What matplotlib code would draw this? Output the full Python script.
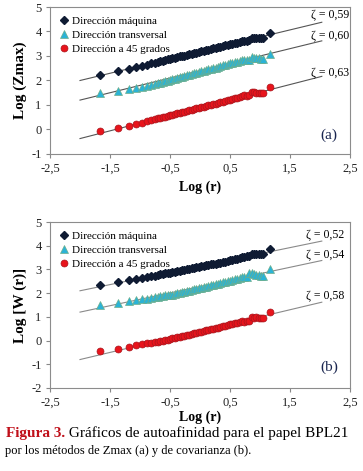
import matplotlib
matplotlib.use("Agg")
import matplotlib.pyplot as plt

plt.rcParams['font.family'] = ['Liberation Serif', 'DejaVu Serif']

# log(r) shared by every series
log_r = [-1.66, -1.36, -1.18, -1.06, -0.96, -0.88, -0.81, -0.75, -0.70, -0.66, -0.62, -0.58,
         -0.54, -0.50, -0.46, -0.42, -0.38, -0.34, -0.30, -0.26, -0.22, -0.18, -0.14, -0.10,
         -0.06, -0.02, 0.02, 0.06, 0.10, 0.14, 0.18, 0.22, 0.26, 0.30, 0.34, 0.38,
         0.42, 0.46, 0.50, 0.54, 0.58, 0.62, 0.66, 0.70, 0.74, 0.78, 0.82,
         0.86, 0.90, 0.94, 0.98, 1.02, 1.05, 1.16]

# (a) Log(Zmax)
a_maquina = [2.22, 2.37, 2.47, 2.55, 2.60, 2.65, 2.70, 2.73, 2.76, 2.78, 2.81, 2.83,
             2.86, 2.88, 2.90, 2.93, 2.95, 2.98, 3.00, 3.02, 3.05, 3.07, 3.09, 3.12,
             3.14, 3.17, 3.19, 3.21, 3.24, 3.26, 3.29, 3.31, 3.33, 3.36, 3.38, 3.41,
             3.43, 3.45, 3.47, 3.50, 3.53, 3.55, 3.58, 3.62, 3.63, 3.62, 3.64,
             3.74, 3.75, 3.73, 3.74, 3.73, 3.73, 3.93]
a_transversal = [1.47, 1.58, 1.66, 1.71, 1.75, 1.79, 1.82, 1.85, 1.88, 1.90, 1.93, 1.96,
                 1.99, 2.02, 2.05, 2.07, 2.10, 2.13, 2.15, 2.18, 2.21, 2.23, 2.26, 2.29,
                 2.31, 2.34, 2.37, 2.39, 2.42, 2.45, 2.47, 2.50, 2.53, 2.56, 2.59, 2.62,
                 2.65, 2.68, 2.71, 2.72, 2.74, 2.77, 2.79, 2.82, 2.85, 2.84, 2.83,
                 2.94, 2.93, 2.91, 2.90, 2.88, 2.86, 3.10]
a_45 = [-0.05, 0.07, 0.16, 0.22, 0.28, 0.33, 0.38, 0.42, 0.45, 0.48, 0.51, 0.53,
        0.56, 0.59, 0.61, 0.63, 0.66, 0.68, 0.71, 0.73, 0.76, 0.78, 0.81, 0.83,
        0.86, 0.88, 0.91, 0.93, 0.96, 0.98, 1.01, 1.03, 1.06, 1.08, 1.11, 1.14,
        1.16, 1.19, 1.22, 1.24, 1.27, 1.30, 1.33, 1.38, 1.39, 1.38, 1.40,
        1.52, 1.53, 1.50, 1.51, 1.49, 1.50, 1.73]

# (b) Log[W(r)]
b_maquina = [2.33, 2.46, 2.55, 2.60, 2.64, 2.68, 2.71, 2.74, 2.77, 2.79, 2.81, 2.83,
             2.85, 2.87, 2.89, 2.91, 2.93, 2.95, 2.97, 2.99, 3.01, 3.03, 3.05, 3.07,
             3.09, 3.11, 3.13, 3.15, 3.17, 3.19, 3.21, 3.23, 3.25, 3.27, 3.29, 3.31,
             3.33, 3.36, 3.38, 3.40, 3.42, 3.46, 3.48, 3.52, 3.53, 3.55, 3.56,
             3.65, 3.66, 3.65, 3.66, 3.64, 3.64, 3.86]
b_transversal = [1.50, 1.60, 1.66, 1.70, 1.74, 1.77, 1.80, 1.83, 1.85, 1.87, 1.89, 1.91,
                 1.92, 1.93, 1.94, 1.97, 1.99, 2.01, 2.04, 2.06, 2.08, 2.11, 2.13, 2.16,
                 2.18, 2.20, 2.23, 2.25, 2.28, 2.30, 2.33, 2.35, 2.38, 2.40, 2.43, 2.45,
                 2.48, 2.50, 2.53, 2.55, 2.58, 2.61, 2.64, 2.68, 2.66, 2.70, 2.86,
                 2.84, 2.80, 2.78, 2.76, 2.74, 2.72, 3.00]
b_45 = [-0.43, -0.34, -0.26, -0.20, -0.16, -0.12, -0.09, -0.06, -0.04, -0.02, 0.00, 0.02,
        0.04, 0.06, 0.09, 0.11, 0.13, 0.16, 0.18, 0.20, 0.23, 0.25, 0.28, 0.30,
        0.33, 0.35, 0.38, 0.40, 0.43, 0.45, 0.48, 0.50, 0.53, 0.55, 0.58, 0.60,
        0.63, 0.65, 0.68, 0.70, 0.72, 0.75, 0.78, 0.82, 0.80, 0.83, 0.82,
        0.98, 0.97, 0.98, 0.96, 0.95, 0.94, 1.20]

# fitted lines (slope, intercept) and their x extent
fit_x = [-2.0, 2.03]
a_fit = [(0.59, 3.18), (0.60, 2.40), (0.63, 0.89)]
b_fit = [(0.52, 3.14), (0.54, 2.28), (0.60, 0.40)]
a_zeta = ['ζ = 0,59', 'ζ = 0,60', 'ζ = 0,63']
b_zeta = ['ζ = 0,52', 'ζ = 0,54', 'ζ = 0,58']
a_zeta_y = [4.65, 3.80, 2.30]
b_zeta_y = [4.45, 3.60, 1.88]

labels = ['Dirección máquina', 'Dirección transversal', 'Dirección a 45 grados']
xticks = [-2.5, -1.5, -0.5, 0.5, 1.5, 2.5]
xtick_labels = ['-2,5', '-1,5', '-0,5', '0,5', '1,5', '2,5']

styles = [dict(marker='D', ms=4, mfc='#0f1b33', mec='#0f1b33'),
          dict(marker='^', ms=5.5, mfc='#2bb3d6', mec='#6fae8a', mew=0.5),
          dict(marker='o', ms=5, mfc='#e8141c', mec='#a8141c', mew=0.5)]

fig = plt.figure(figsize=(3.63, 4.71), dpi=100)
ax1 = fig.add_axes([50/363, 1-154/471, 300/363, 147/471])
ax2 = fig.add_axes([50/363, 1-388/471, 300/363, 166/471])

panels = [
    (ax1, [a_maquina, a_transversal, a_45], a_fit, a_zeta, a_zeta_y, (-1, 5), 'Log (Zmax)', '(a)', -0.24, 2.48, '#555555'),
    (ax2, [b_maquina, b_transversal, b_45], b_fit, b_zeta, b_zeta_y, (-2, 5), 'Log [W (r)]', '(b)', -1.14, 2.40, '#8a8a8a'),
]

for ax, series, fits, zetas, zeta_y, ylim, ylabel, tag, tag_y, zx, lcol in panels:
    for (m, b), ys, st, lab in zip(fits, series, styles, labels):
        ax.plot(fit_x, [b + m * fit_x[0], b + m * fit_x[1]], color=lcol, lw=0.8, zorder=1)
        ax.plot(log_r, ys, ls='none', label=lab, zorder=2, **st)
    for z, zy in zip(zetas, zeta_y):
        ax.text(zx, zy, z, ha='right', va='center', fontsize=8.5)
    ax.text(2.15, tag_y, tag, ha='center', va='center', fontsize=11, color='#1a2650')
    ax.set_xlim(-2.5, 2.5)
    ax.set_ylim(*ylim)
    ax.set_xticks(xticks)
    ax.set_xticklabels(xtick_labels)
    yt = list(range(ylim[0], ylim[1] + 1))
    ax.set_yticks(yt)
    ax.set_yticklabels([str(v) for v in yt])
    ax.tick_params(direction='out', length=3, width=0.8, color='#888888', labelsize=9,
                   labelcolor='#222222', pad=3)
    for s in ax.spines.values():
        s.set_color('#8c8c8c')
        s.set_linewidth(0.8)
    ax.set_xlabel('Log (r)', fontsize=10, fontweight='bold')
    ax.set_ylabel(ylabel, fontsize=11, fontweight='bold')
    ax.yaxis.set_label_coords(-0.1, 0.5)
    ax.yaxis.label.set_va('center')
    ax.xaxis.label.set_va('center')
    ax.legend(loc='upper left', bbox_to_anchor=(0.0, 1.0), frameon=False, fontsize=8,
              handlelength=0.8, handletextpad=0.3, labelspacing=0.35, borderaxespad=0.55,
              borderpad=0.3)

ax1.xaxis.set_label_coords(0.5, -(187 - 154) / 147)
ax2.xaxis.set_label_coords(0.5, -(417 - 388) / 166)

t1 = fig.text(6/363, 1-433/471, 'Figura 3.', color='#c0101a', fontweight='bold', fontsize=11, va='center')
ax2.annotate(' Gráficos de autoafinidad para el papel BPL21', xy=(1, 0), xycoords=t1,
             va='bottom', ha='left', fontsize=11, annotation_clip=False)
fig.text(5/363, 1-451/471, 'por los métodos de Zmax (a) y de covarianza (b).', fontsize=9, va='center')

fig.savefig('out.png', dpi=100)
